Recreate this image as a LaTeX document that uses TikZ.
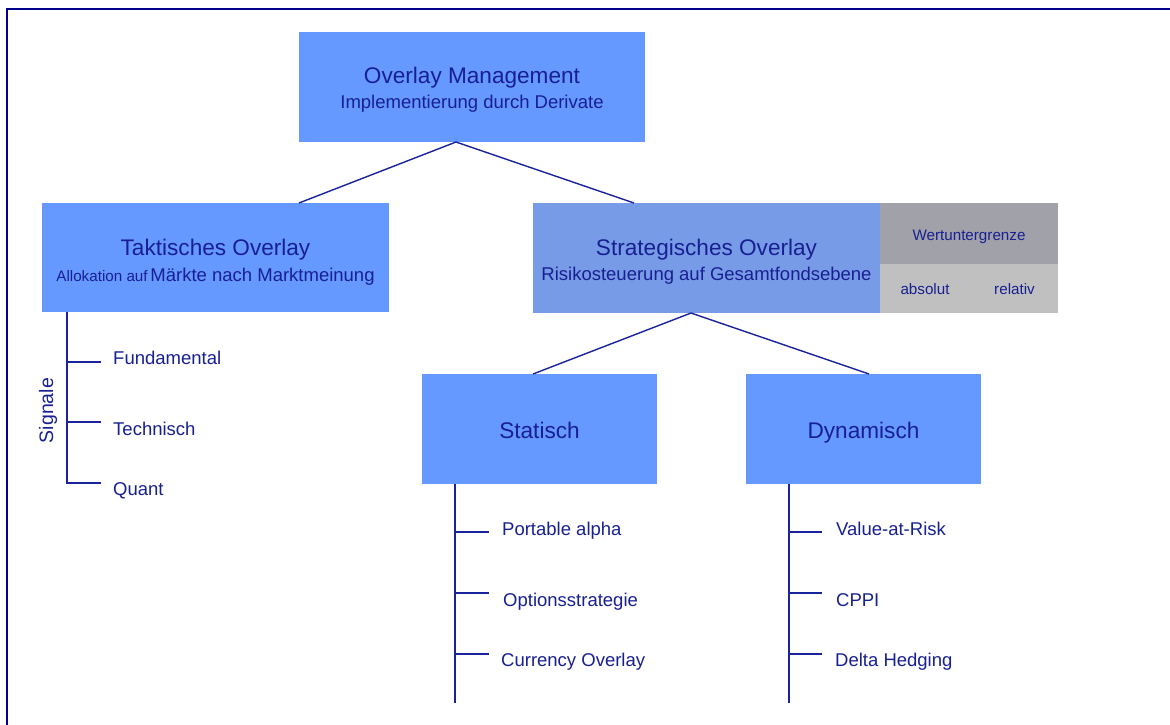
\documentclass[tikz,border=0pt]{standalone}
\usepackage{fontspec}
\setmainfont{Liberation Sans}
\definecolor{boxblue}{RGB}{102,153,255}
\definecolor{stratblue}{RGB}{120,155,232}
\definecolor{graydark}{RGB}{161,161,169}
\definecolor{graylight}{RGB}{192,192,192}
\definecolor{textblue}{RGB}{24,32,145}
\definecolor{lineblue}{RGB}{25,35,155}
\definecolor{framenavy}{RGB}{0,0,139}
\begin{document}
\begin{tikzpicture}[x=1pt,y=-1pt,
  box/.style={fill=boxblue, draw=none, inner sep=0pt, outer sep=0pt},
  txt/.style={text=textblue, inner sep=0pt, anchor=base},
  big/.style={font=\fontsize{22.6}{26}\selectfont},
  mid/.style={font=\fontsize{18.5}{22}\selectfont},
  small/.style={font=\fontsize{15.2}{18}\selectfont},
  conn/.style={draw=lineblue, line width=1.4pt},
  leaf/.style={txt, mid, anchor=base west},
  framestyle/.style={draw=framenavy, line width=2.8pt}]
\useasboundingbox (0,0) rectangle (1170,724);
\fill[white] (0,0) rectangle (1170,724);
% frame
\draw[framestyle] (7,730) -- (7,9) -- (1180,9);

% boxes
\node[box, minimum width=346pt, minimum height=110pt] (om) at (472,87) {};
\node[box, minimum width=347pt, minimum height=109pt] (tak) at (215.5,257.5) {};
\node[box, fill=stratblue, minimum width=347pt, minimum height=110pt] (str) at (706.5,258) {};
\node[box, fill=graydark, minimum width=178pt, minimum height=61pt] (wug) at (969,233.5) {};
\node[box, fill=graylight, minimum width=178pt, minimum height=49pt] (wabs) at (969,288.5) {};
\node[box, minimum width=235pt, minimum height=110pt] (sta) at (539.5,429) {};
\node[box, minimum width=235pt, minimum height=110pt] (dyn) at (863.5,429) {};

% texts
\node[txt, big] (omt1) at (472,83) {Overlay Management};
\node[txt, mid] (omt2) at (472,108) {Implementierung durch Derivate};
\node[txt, big] (takt1) at (215.5,255) {Taktisches Overlay};
\node[txt] (takt2) at (215.5,281) {{\fontsize{15.2}{18}\selectfont Allokation auf} {\fontsize{18.5}{22}\selectfont Märkte nach Marktmeinung}};
\node[txt, big] (strt1) at (706.5,255) {Strategisches Overlay};
\node[txt, mid] (strt2) at (706.5,280) {Risikosteuerung auf Gesamtfondsebene};
\node[txt, small] (wugt) at (969,240.5) {Wertuntergrenze};
\node[txt, small] (absl) at (925,294.5) {absolut};
\node[txt, small] (rel) at (1014.5,294.5) {relativ};
\node[txt, big] (stat) at (539.5,438) {Statisch};
\node[txt, big] (dynt) at (863.5,438) {Dynamisch};

% connector coordinates
\coordinate (omapex) at (456,142);
\coordinate (takin) at (299,203);
\coordinate (strin) at (634,203);
\coordinate (strapex) at (691,313);
\coordinate (stain) at (533,374);
\coordinate (dynin) at (869,374);
\draw[conn] (takin) -- (omapex) -- (strin);
\draw[conn] (stain) -- (strapex) -- (dynin);

% Taktisch signals
\coordinate (tv0) at (67,312);
\coordinate (tv1) at (67,362);
\coordinate (tv2) at (67,422);
\coordinate (tv3) at (67,483);
\node[leaf] (fund) at (113,364) {Fundamental};
\node[leaf] (tech) at (113,435) {Technisch};
\node[leaf] (quant) at (113,495.5) {Quant};
\draw[conn] (tv0) -- (tv3) -- (101,483);
\draw[conn] (tv1) -- (101,362);
\draw[conn] (tv2) -- (101,422);
\node[text=textblue, inner sep=0pt, rotate=90, font=\fontsize{19.5}{22}\selectfont] (sig) at (48,410.5) {Signale};

% Statisch
\coordinate (sv0) at (455,484);
\coordinate (sv1) at (455,703);
\draw[conn] (sv0) -- (sv1);
\draw[conn] (455,532) -- (489,532);
\draw[conn] (455,593) -- (489,593);
\draw[conn] (455,654) -- (489,654);
\node[leaf] (pa) at (502,535) {Portable alpha};
\node[leaf] (os) at (503,606.5) {Optionsstrategie};
\node[leaf] (co) at (501,666.5) {Currency Overlay};

% Dynamisch
\coordinate (dv0) at (789,484);
\coordinate (dv1) at (789,703);
\draw[conn] (dv0) -- (dv1);
\draw[conn] (789,532) -- (822,532);
\draw[conn] (789,593) -- (822,593);
\draw[conn] (789,654) -- (822,654);
\node[leaf] (var) at (836,535) {Value-at-Risk};
\node[leaf] (cppi) at (836,606.5) {CPPI};
\node[leaf] (dh) at (835,666.5) {Delta Hedging};
\end{tikzpicture}
\end{document}
